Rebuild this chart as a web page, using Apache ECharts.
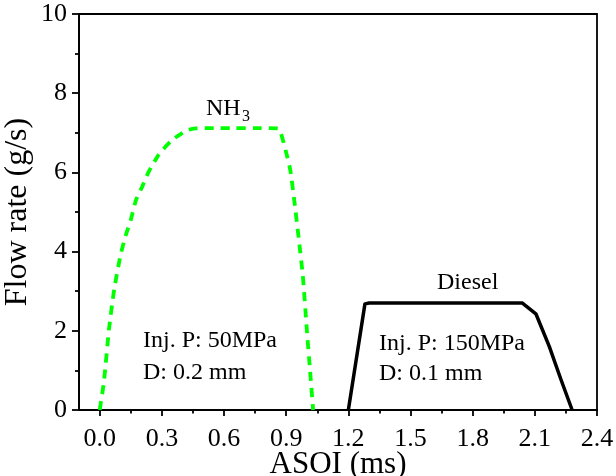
<!DOCTYPE html>
<html>
<head>
<meta charset="utf-8">
<script src="https://cdn.jsdelivr.net/npm/echarts@6/dist/echarts.min.js"></script>
<style>
  html, body { margin: 0; padding: 0; background: #fff; }
  #chart { width: 616px; height: 476px; }
</style>
</head>
<body>
<div id="chart"></div>
<script>
// Tick positions on the time axis (ms)
const xTicks = [0, 0.3, 0.6, 0.9, 1.2, 1.5, 1.8, 2.1, 2.4];
const xMinorTicks = [0.15, 0.45, 0.75, 1.05, 1.35, 1.65, 1.95, 2.25];

// NH3 injection rate profile (time in ms, rate in g/s)
const nh3Time = [0, 0.02, 0.045, 0.07, 0.1, 0.125, 0.15, 0.175, 0.205, 0.235, 0.285, 0.35, 0.42, 0.46,
                 0.55, 0.65, 0.75, 0.86, 0.875, 0.9, 0.92, 0.94, 0.96, 0.98, 1.0, 1.015, 1.03];
const nh3Rate = [0, 0.7, 2.05, 3.05, 3.9, 4.4, 4.8, 5.3, 5.64, 6.0, 6.45, 6.82, 7.06, 7.11,
                 7.12, 7.12, 7.12, 7.11, 6.98, 6.5, 6.05, 5.25, 4.35, 3.4, 2.0, 1.0, 0];

// Diesel injection rate profile
const dieselTime = [1.2, 1.28, 1.3, 2.04, 2.105, 2.17, 2.226, 2.28];
const dieselRate = [0, 2.68, 2.7, 2.7, 2.43, 1.6, 0.77, 0];

const FONT = '"Liberation Serif", "Times New Roman", serif';

const pairs = (xs, ys) => xs.map((x, i) => [x, ys[i]]);

const chart = echarts.init(document.getElementById('chart'), null, { renderer: 'canvas' });

const axisLineStyle = { color: '#000', width: 1.8 };

chart.setOption({
  animation: false,
  backgroundColor: '#fff',
  grid: {
    left: 79, top: 14, width: 518, height: 396,
    outerBoundsMode: 'none', containLabel: false,
    show: true, borderColor: '#000', borderWidth: 1.8, backgroundColor: 'transparent'
  },
  xAxis: [
    {
      type: 'value', min: -0.1, max: 2.4, position: 'bottom',
      axisLine: { show: true, onZero: false, lineStyle: axisLineStyle },
      axisTick: { show: true, customValues: xTicks, length: 6, inside: false, lineStyle: axisLineStyle },
      axisLabel: {
        customValues: xTicks, formatter: v => v.toFixed(1),
        fontFamily: FONT, fontSize: 26, color: '#000', margin: 16
      },
      splitLine: { show: false },
      name: 'ASOI (ms)', nameLocation: 'middle', nameGap: 39, nameMoveOverlap: false,
      nameTextStyle: { fontFamily: FONT, fontSize: 31, color: '#000' }
    },
    {
      type: 'value', min: -0.1, max: 2.4, position: 'bottom',
      axisLine: { show: false, onZero: false },
      axisTick: { show: true, customValues: xMinorTicks, length: 3.5, lineStyle: axisLineStyle },
      axisLabel: { show: false },
      splitLine: { show: false }
    }
  ],
  yAxis: {
    type: 'value', min: 0, max: 10, interval: 2,
    axisLine: { show: true, onZero: false, lineStyle: axisLineStyle },
    axisTick: { show: true, length: 7, lineStyle: axisLineStyle },
    minorTick: { show: true, splitNumber: 2, length: 4, lineStyle: axisLineStyle },
    axisLabel: { fontFamily: FONT, fontSize: 26, color: '#000', margin: 12 },
    splitLine: { show: false },
    minorSplitLine: { show: false },
    name: 'Flow rate (g/s)', nameLocation: 'middle', nameGap: 45, nameMoveOverlap: false,
    nameTextStyle: { fontFamily: FONT, fontSize: 32, color: '#000' }
  },
  series: [
    {
      name: 'NH3', type: 'line', xAxisIndex: 0, data: pairs(nh3Time, nh3Rate),
      showSymbol: false, smooth: 0.2,
      lineStyle: { color: '#00ff00', width: 3.8, type: [9, 7], cap: 'butt' }
    },
    {
      name: 'Diesel', type: 'line', xAxisIndex: 0, data: pairs(dieselTime, dieselRate),
      showSymbol: false,
      lineStyle: { color: '#000', width: 3.5, join: 'round' }
    }
  ],
  graphic: [
    { type: 'text', left: 206, top: 97, style: { text: 'NH', font: '24px ' + FONT, fill: '#000' } },
    { type: 'text', left: 242, top: 109, style: { text: '3', font: '16px ' + FONT, fill: '#000' } },
    { type: 'text', left: 143, top: 329, style: { text: 'Inj. P: 50MPa', font: '24px ' + FONT, fill: '#000' } },
    { type: 'text', left: 143, top: 361, style: { text: 'D: 0.2 mm', font: '24px ' + FONT, fill: '#000' } },
    { type: 'text', left: 437, top: 271, style: { text: 'Diesel', font: '24px ' + FONT, fill: '#000' } },
    { type: 'text', left: 379, top: 332, style: { text: 'Inj. P: 150MPa', font: '24px ' + FONT, fill: '#000' } },
    { type: 'text', left: 379, top: 362, style: { text: 'D: 0.1 mm', font: '24px ' + FONT, fill: '#000' } }
  ]
});
</script>
</body>
</html>
